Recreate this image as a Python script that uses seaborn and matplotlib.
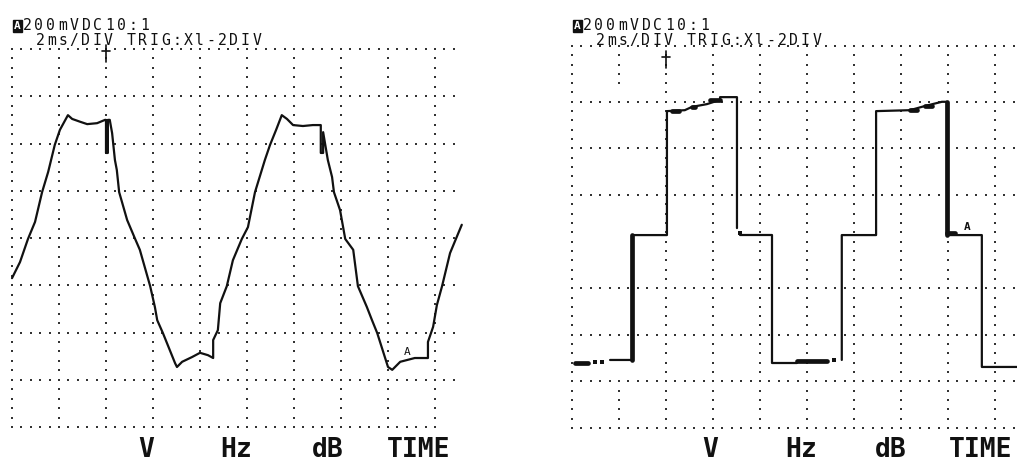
import numpy as np
import pandas as pd
import matplotlib.pyplot as plt
import seaborn as sns

sns.set_theme(style="white")
plt.rcParams["font.family"] = ["DejaVu Sans Mono", "DejaVu Sans"]

W, H = 1017, 462

# ---- values (units: divisions) ----
# left print, x = time (2ms/div), y = level above the bottom graticule line
tri_t = [0.00, 0.17, 0.34, 0.49, 0.64, 0.77, 0.91, 1.02, 1.19, 1.28, 1.45, 1.60, 1.81, 1.98,
         2.00, 2.00, 2.04, 2.04, 2.08, 2.13, 2.19, 2.23, 2.28, 2.45, 2.62, 2.72, 2.94, 3.04,
         3.09, 3.21, 3.47, 3.51, 3.62, 3.83, 4.00, 4.17, 4.28, 4.28, 4.38, 4.43, 4.57, 4.70,
         4.89, 5.02, 5.17, 5.38, 5.49, 5.62, 5.74, 5.85, 5.98, 6.19, 6.40, 6.57, 6.57, 6.62,
         6.62, 6.72, 6.81, 6.85, 6.98, 7.09, 7.26, 7.36, 7.55, 7.66, 7.77, 8.00, 8.09, 8.26,
         8.57, 8.85, 8.85, 8.96, 9.04, 9.15, 9.32, 9.57]
tri_v = [3.15, 3.49, 3.98, 4.34, 4.97, 5.40, 5.97, 6.29, 6.60, 6.52, 6.46, 6.41, 6.43, 6.50,
         6.50, 5.80, 5.80, 6.50, 6.50, 6.22, 5.65, 5.44, 4.97, 4.38, 3.98, 3.75, 2.98, 2.54,
         2.26, 1.99, 1.35, 1.27, 1.38, 1.48, 1.57, 1.52, 1.46, 1.84, 2.05, 2.62, 2.98, 3.53,
         3.98, 4.23, 4.97, 5.65, 5.97, 6.29, 6.60, 6.52, 6.39, 6.37, 6.39, 6.39, 5.80, 5.80,
         6.24, 5.65, 5.29, 4.97, 4.59, 3.98, 3.75, 2.98, 2.54, 2.26, 1.99, 1.27, 1.21, 1.38,
         1.46, 1.46, 1.80, 2.12, 2.58, 2.98, 3.68, 4.28]

# right print, stepped wave drawn in three pieces
step1_t = [0.81, 1.28, 1.28, 2.02, 2.02, 2.40, 2.55, 2.87, 3.15, 3.15, 3.51, 3.51]
step1_v = [1.46, 1.46, 4.14, 4.14, 6.80, 6.82, 6.89, 6.95, 7.04, 7.10, 7.10, 4.29]
step2_t = [3.57, 4.26, 4.26, 4.79, 4.79, 5.43]
step2_v = [4.14, 4.14, 1.39, 1.39, 1.44, 1.44]
step3_t = [5.74, 5.74, 6.47, 6.47, 7.19, 7.51, 7.87, 7.98, 7.98, 8.72, 8.72, 9.47]
step3_v = [1.46, 4.14, 4.14, 6.80, 6.82, 6.91, 7.00, 7.00, 4.14, 4.14, 1.31, 1.31]
# heavy (doubled) strokes on the right print: start/end pairs
heavy_t = [(0.06, 0.34), (1.28, 1.28), (2.13, 2.28), (2.55, 2.62), (2.94, 3.15),
           (4.79, 5.43), (7.19, 7.34), (7.51, 7.66), (7.98, 7.98), (7.98, 8.15)]
heavy_v = [(1.39, 1.39), (1.46, 4.14), (6.80, 6.80), (6.89, 6.89), (7.04, 7.04),
           (1.44, 1.44), (6.82, 6.82), (6.91, 6.91), (7.00, 4.14), (4.18, 4.18)]
# stray single pixels on the right trace
dot_t = [0.49, 0.64, 3.57, 5.57]
dot_v = [1.42, 1.42, 4.18, 1.46]

header1 = "200mVDC10:1"
header2 = "2ms/DIV TRIG:Xl-2DIV"
softkeys = ["V", "Hz", "dB", "TIME"]

fig = plt.figure(figsize=(W / 100, H / 100), dpi=100)
fig.patch.set_facecolor("white")

# axes mapped so one division is ~47 px, like the prints
axL = fig.add_axes([0, 0, 480 / W, 1])
axL.set_xlim(-12 / 47, 468 / 47)
axL.set_ylim(-35 / 47.25, 427 / 47.25)
axR = fig.add_axes([560 / W, 0, 457 / W, 1])
axR.set_xlim(-12 / 47, 445 / 47)
axR.set_ylim(-34 / 46.6, 428 / 46.6)
for ax in (axL, axR):
    ax.set_axis_off()


def dots(ax, pts):
    g = pd.DataFrame(pts, columns=["x", "y"])
    sns.scatterplot(data=g, x="x", y="y", marker="s", s=3, color="#333333",
                    linewidth=0, ax=ax, legend=False)


# graticule, left: 10 columns x 8 rows of dotted lines, 5 dots per division
pts = []
for c in range(10):
    pts += [(c, y) for y in np.arange(0, 8.01, 0.2)]
for r in range(9):
    right = 9.0 if r == 0 else 9.4
    pts += [(x, r) for x in np.arange(0, right + 0.01, 0.2)]
dots(axL, pts)

# graticule, right (the print lost a row and most of one column)
pts = []
for c in range(10):
    ys = np.arange(0, 8.21, 0.2)
    if c == 1:
        ys = [y for y in ys if y <= 1.0 or y >= 7.4]
    pts += [(c, y) for y in ys]
for r in [0, 1, 2, 3, 5, 6, 7, 8.2]:
    pts += [(x, r) for x in np.arange(0, 9.41, 0.2)]
dots(axR, pts)

# traces
ink = "#111111"
left_df = pd.DataFrame({"t": tri_t, "v": tri_v})
sns.lineplot(data=left_df, x="t", y="v", sort=False, estimator=None,
             color=ink, lw=1.6, ax=axL)

pieces = []
for k, (tt, vv) in enumerate([(step1_t, step1_v), (step2_t, step2_v), (step3_t, step3_v)]):
    pieces.append(pd.DataFrame({"t": tt, "v": vv, "seg": f"s{k}", "stroke": "thin"}))
for k, (tt, vv) in enumerate(zip(heavy_t, heavy_v)):
    pieces.append(pd.DataFrame({"t": tt, "v": vv, "seg": f"h{k}", "stroke": "heavy"}))
right_df = pd.concat(pieces, ignore_index=True)
sns.lineplot(data=right_df, x="t", y="v", units="seg", size="stroke",
             sizes={"thin": 1.6, "heavy": 3.4}, sort=False, estimator=None,
             color=ink, ax=axR, legend=False)
sns.scatterplot(x=dot_t, y=dot_v, marker="s", s=5, color=ink, linewidth=0, ax=axR)


def scope_line(x0, base, s, adv, size=10.6):
    # the scope font is on a fixed character cell, wider than DejaVu Mono
    for i, ch in enumerate(s):
        fig.text((x0 + i * adv + 5) / W, 1 - base / H, ch, ha="center", va="baseline",
                 fontsize=size, color=ink)


key_x = {0: [146, 236, 328, 419], 560: [150, 241, 331, 421]}
for off, ax in ((0, axL), (560, axR)):
    # channel badge + settings lines
    fig.text((off + 17.5) / W, 1 - 29 / H, "A", ha="center", va="baseline", fontsize=8,
             color="white", fontweight="bold",
             bbox=dict(boxstyle="square,pad=0.1", fc=ink, ec=ink))
    scope_line(off + 22, 29.5, header1, 11.8)
    scope_line(off + 35, 45, header2, 11.4)
    # bottom soft-key labels
    for lab, cx in zip(softkeys, key_x[off]):
        fig.text((off + cx) / W, 1 - 457 / H, lab, ha="center", va="baseline",
                 fontsize=19, fontweight="bold", color=ink)
    # trigger mark at 2 div
    ax.plot([2.0, 2.0], [7.72, 8.08], color=ink, lw=1.2)
    ax.plot([1.92, 2.08], [7.96, 7.96], color=ink, lw=1.2)

# cursor "A" labels
axL.text(8.40, 1.52, "A", ha="center", va="baseline", fontsize=8, color=ink)
axR.text(8.40, 4.24, "A", ha="center", va="baseline", fontsize=8, color=ink,
         fontweight="bold")

fig.savefig("out.png", dpi=100, facecolor="white")
